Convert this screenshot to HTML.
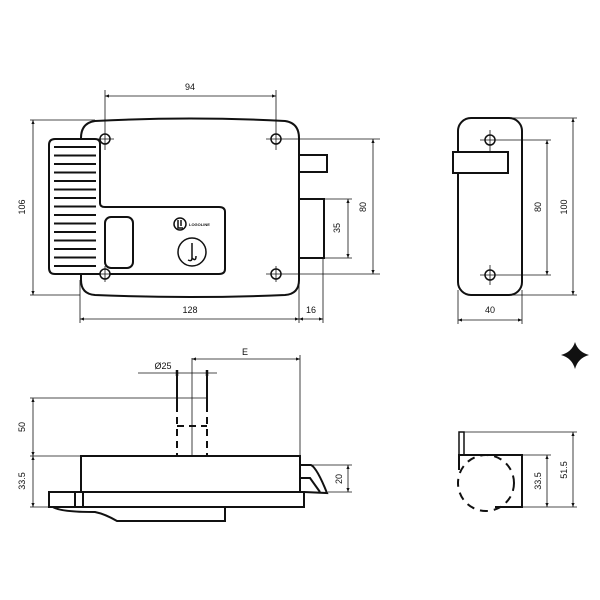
<!DOCTYPE html>
<html><head><meta charset="utf-8"><style>body{margin:0;background:#fff}svg{display:block}text{font-family:"Liberation Sans",sans-serif;font-size:9px;fill:#111}</style></head><body>
<svg width="600" height="600" viewBox="0 0 600 600" xmlns="http://www.w3.org/2000/svg">
<defs><marker id="a" viewBox="0 0 10 10" refX="10" refY="5" markerWidth="5" markerHeight="5" orient="auto-start-reverse"><path d="M0,1L10,5L0,9z" fill="#111"/></marker></defs>
<g fill="none" stroke="#111" stroke-width="2">
<path d="M95,121 Q190,116 285,121 Q299,123 299,138 L299,280 Q299,294 285,295 Q190,299 95,295 Q81,294 81,280 L81,138 Q81,123 95,121Z" fill="#fff"/>
<path d="M55,139 L95,139 Q100,139 100,144 L100,203 Q100,207 105,207 L219,207 Q225,207 225,212 L225,269 Q225,274 219,274 L55,274 Q49,274 49,268 L49,145 Q49,139 55,139Z" fill="#fff"/>
<rect x="105" y="217" width="28" height="51" rx="6"/>
<rect x="299" y="155" width="28" height="17" fill="#fff"/>
<rect x="299" y="199" width="25" height="59" fill="#fff"/>
<circle cx="192" cy="252" r="14" stroke-width="1.5"/>
<circle cx="180" cy="224" r="6" stroke-width="1.5"/>
<rect x="458" y="118" width="64" height="177" rx="13" fill="#fff"/>
<rect x="453" y="152" width="55" height="21" fill="#fff"/>
</g>
<g stroke="#111" stroke-width="2">
<line x1="54" y1="147" x2="96" y2="147"/><line x1="54" y1="155.5" x2="96" y2="155.5"/><line x1="54" y1="164" x2="96" y2="164"/><line x1="54" y1="172.5" x2="96" y2="172.5"/><line x1="54" y1="181" x2="96" y2="181"/><line x1="54" y1="189.5" x2="96" y2="189.5"/><line x1="54" y1="198" x2="96" y2="198"/><line x1="54" y1="206.5" x2="96" y2="206.5"/><line x1="54" y1="215" x2="96" y2="215"/><line x1="54" y1="223.5" x2="96" y2="223.5"/><line x1="54" y1="232" x2="96" y2="232"/><line x1="54" y1="240.5" x2="96" y2="240.5"/><line x1="54" y1="249" x2="96" y2="249"/><line x1="54" y1="257.5" x2="96" y2="257.5"/><line x1="54" y1="266" x2="96" y2="266"/>
</g>
<path d="M178,220 L178,228 L183,228 M181,220 L181,226" stroke="#111" stroke-width="1.5" fill="none"/>
<path d="M192,243 L192,258 Q192,262 188,260 M192,258 Q196,262 196,256" stroke="#111" stroke-width="1.5" fill="none"/>
<text x="189" y="226" style="font-size:4px;font-weight:bold">LOGOLINE</text>
<g fill="#fff" stroke="#111" stroke-width="1.5">
<circle cx="105" cy="139" r="5"/><circle cx="276" cy="139" r="5"/><circle cx="105" cy="274" r="5"/><circle cx="276" cy="274" r="5"/>
<circle cx="490" cy="140" r="5"/><circle cx="490" cy="275" r="5"/>
</g>
<g stroke="#111" stroke-width="0.8" fill="none">
<line x1="105" y1="90" x2="105" y2="150"/><line x1="276" y1="90" x2="276" y2="150"/>
<line x1="96" y1="139" x2="114" y2="139"/><line x1="96" y1="274" x2="114" y2="274"/>
<line x1="266" y1="139" x2="380" y2="139"/><line x1="266" y1="274" x2="380" y2="274"/><line x1="276" y1="266" x2="276" y2="282"/><line x1="105" y1="266" x2="105" y2="282"/>
<line x1="30" y1="120" x2="95" y2="120"/><line x1="30" y1="295" x2="80" y2="295"/>
<line x1="80" y1="280" x2="80" y2="323"/><line x1="299" y1="280" x2="299" y2="323"/><line x1="323" y1="258" x2="323" y2="323"/>
<line x1="324" y1="199" x2="352" y2="199"/><line x1="324" y1="258" x2="352" y2="258"/>
<line x1="105" y1="96" x2="276" y2="96" marker-start="url(#a)" marker-end="url(#a)"/>
<line x1="33" y1="120" x2="33" y2="295" marker-start="url(#a)" marker-end="url(#a)"/>
<line x1="80" y1="319" x2="299" y2="319" marker-start="url(#a)" marker-end="url(#a)"/>
<line x1="299" y1="319" x2="323" y2="319" marker-start="url(#a)" marker-end="url(#a)"/>
<line x1="348" y1="199" x2="348" y2="258" marker-start="url(#a)" marker-end="url(#a)"/>
<line x1="373" y1="139" x2="373" y2="274" marker-start="url(#a)" marker-end="url(#a)"/>
<line x1="480" y1="140" x2="551" y2="140"/><line x1="480" y1="275" x2="551" y2="275"/><line x1="490" y1="130" x2="490" y2="152"/><line x1="490" y1="265" x2="490" y2="285"/>
<line x1="500" y1="118" x2="577" y2="118"/><line x1="500" y1="295" x2="577" y2="295"/>
<line x1="458" y1="290" x2="458" y2="324"/><line x1="522" y1="290" x2="522" y2="324"/>
<line x1="547" y1="140" x2="547" y2="275" marker-start="url(#a)" marker-end="url(#a)"/>
<line x1="573" y1="118" x2="573" y2="295" marker-start="url(#a)" marker-end="url(#a)"/>
<line x1="458" y1="320" x2="522" y2="320" marker-start="url(#a)" marker-end="url(#a)"/>
<line x1="192" y1="358" x2="192" y2="465"/>
<line x1="300" y1="355" x2="300" y2="456"/>
<line x1="192" y1="359" x2="300" y2="359" marker-start="url(#a)" marker-end="url(#a)"/>
<line x1="138" y1="373" x2="217" y2="373"/>
<line x1="30" y1="398" x2="207" y2="398"/><line x1="30" y1="456" x2="81" y2="456"/><line x1="30" y1="507" x2="49" y2="507"/>
<line x1="33" y1="398" x2="33" y2="456" marker-start="url(#a)" marker-end="url(#a)"/>
<line x1="33" y1="456" x2="33" y2="507" marker-start="url(#a)" marker-end="url(#a)"/>
<line x1="310" y1="465" x2="352" y2="465"/><line x1="328" y1="492" x2="352" y2="492"/>
<line x1="348" y1="465" x2="348" y2="492" marker-start="url(#a)" marker-end="url(#a)"/>
<line x1="464" y1="432" x2="577" y2="432"/><line x1="522" y1="455" x2="551" y2="455"/><line x1="522" y1="507" x2="577" y2="507"/>
<line x1="547" y1="455" x2="547" y2="507" marker-start="url(#a)" marker-end="url(#a)"/>
<line x1="573" y1="432" x2="573" y2="507" marker-start="url(#a)" marker-end="url(#a)"/>
</g>
<g stroke="#111" stroke-width="2.5"><line x1="177" y1="370" x2="177" y2="376"/><line x1="207" y1="370" x2="207" y2="376"/></g>
<g fill="none" stroke="#111" stroke-width="2">
<line x1="177" y1="372" x2="177" y2="405"/><line x1="207" y1="372" x2="207" y2="405"/>
<path d="M177,405 L177,456 M207,405 L207,456 M177,426 L207,426" stroke-dasharray="7,5"/>
<rect x="81" y="456" width="219" height="36" fill="#fff"/>
<path d="M300,465 L311,465 Q317,468 327,493 L304,492"/>
<path d="M300,478 L310,478 L320,492"/>
<path d="M53,507 Q60,512 95,512 Q105,514 117,521 L225,521 L225,507"/>
<rect x="49" y="492" width="255" height="15" fill="#fff"/>
<line x1="75" y1="492" x2="75" y2="507"/><line x1="83" y1="492" x2="83" y2="507"/>
<rect x="459" y="432" width="5" height="23" stroke-width="1.5"/>
<path d="M459,470 L459,455 L522,455 L522,507 L495,507"/>
<circle cx="486" cy="483" r="28" stroke-dasharray="8,6"/>
</g>
<path d="M575,342 Q578,352 589,355 Q578,358 575,369 Q572,358 561,355 Q572,352 575,342Z" fill="#111"/>
<g>
<text x="190" y="90" text-anchor="middle">94</text>
<text x="190" y="313" text-anchor="middle">128</text>
<text x="311" y="313" text-anchor="middle">16</text>
<text x="490" y="313" text-anchor="middle">40</text>
<text x="245" y="355" text-anchor="middle">E</text>
<text x="163" y="369" text-anchor="middle">Ø25</text>
<text transform="translate(25,207) rotate(-90)" text-anchor="middle">106</text>
<text transform="translate(340,228) rotate(-90)" text-anchor="middle">35</text>
<text transform="translate(366,207) rotate(-90)" text-anchor="middle">80</text>
<text transform="translate(541,207) rotate(-90)" text-anchor="middle">80</text>
<text transform="translate(567,207) rotate(-90)" text-anchor="middle">100</text>
<text transform="translate(25,427) rotate(-90)" text-anchor="middle">50</text>
<text transform="translate(25,481) rotate(-90)" text-anchor="middle">33.5</text>
<text transform="translate(342,479) rotate(-90)" text-anchor="middle">20</text>
<text transform="translate(541,481) rotate(-90)" text-anchor="middle">33.5</text>
<text transform="translate(567,470) rotate(-90)" text-anchor="middle">51.5</text>
</g>
</svg>
</body></html>
